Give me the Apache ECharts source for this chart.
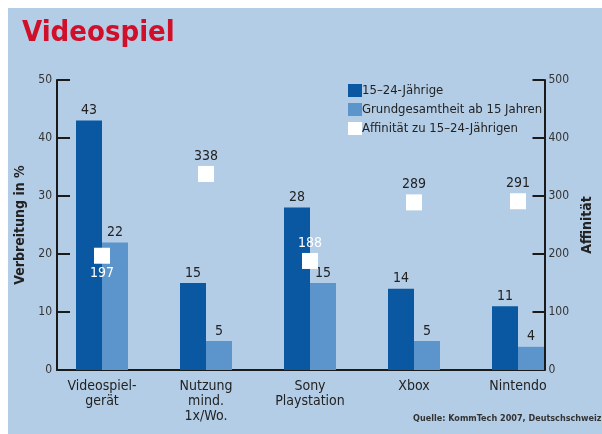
<!DOCTYPE html>
<html>
<head>
<meta charset="utf-8">
<script src="https://cdn.jsdelivr.net/npm/echarts@6/dist/echarts.min.js"></script>
<style>
  html, body { margin: 0; padding: 0; background: #fff; }
  #chart { width: 602px; height: 434px; }
</style>
</head>
<body>
<div id="chart"></div>
<script>
// Videospiel – Verbreitung und Affinität
var chart = echarts.init(document.getElementById('chart'));

var categories = ['Videospiel-\ngerät', 'Nutzung\nmind.\n1x/Wo.', 'Sony\nPlaystation', 'Xbox', 'Nintendo'];
var jung = [43, 15, 28, 14, 11];          // 15-24-Jährige, %
var gesamt = [22, 5, 15, 5, 4];           // Grundgesamtheit ab 15 Jahren, %
var affinitaet = [197, 338, 188, 289, 291];
var leftTicks = [0, 50, 10];              // min, max, interval
var rightTicks = [0, 500, 100];

// Beschriftung der Affinität: unter/über dem Punkt, weiß wenn im Balken
var affLabelPos = ['bottom', 'top', 'top', 'top', 'top'];
var affLabelColor = ['#fff', '#222', '#fff', '#222', '#222'];

var font = "'DejaVu Sans Condensed', 'Liberation Sans Narrow', sans-serif";
var dark = '#0a58a2';
var light = '#5c95cb';
var axisCol = '#1a1a1a';

var option = {
    animation: false,
    textStyle: { fontFamily: font },
    graphic: [
        {
            type: 'rect', silent: true, z: -10,
            shape: { x: 8, y: 8, width: 602, height: 434 },
            style: { fill: '#b4cde6' }
        },
        {
            type: 'text', left: 413, top: 414,
            style: { text: 'Quelle: KommTech 2007, Deutschschweiz', font: 'bold 9px ' + font, fill: '#333' }
        }
    ],
    title: {
        text: 'Videospiel',
        left: 17, top: 14,
        textStyle: { color: '#d0102a', fontSize: 29, fontWeight: 'bold', fontFamily: font }
    },
    legend: {
        orient: 'vertical',
        left: 343, top: 79,
        itemWidth: 14, itemHeight: 13, itemGap: 6,
        icon: 'rect',
        textStyle: { color: '#222', fontSize: 13, padding: [0, 0, 0, -5] },
        data: ['15–24-Jährige', 'Grundgesamtheit ab 15 Jahren', 'Affinität zu 15–24-Jährigen']
    },
    grid: [
        { left: 50, right: 32, top: 80, bottom: 64 },
        { left: 57, right: 43, top: 80, bottom: 64 }
    ],
    xAxis: [
        {
            type: 'category', gridIndex: 0, data: categories,
            axisLine: { show: false }, axisTick: { show: false },
            axisLabel: { color: '#222', fontSize: 14, lineHeight: 15, margin: 9 }
        },
        {
            type: 'category', gridIndex: 1, data: categories,
            axisLine: { lineStyle: { color: axisCol, width: 2 } },
            axisTick: { show: false }, axisLabel: { show: false }
        }
    ],
    yAxis: [
        { type: 'value', gridIndex: 0, min: leftTicks[0], max: leftTicks[1], interval: leftTicks[2], show: false },
        { type: 'value', gridIndex: 0, min: rightTicks[0], max: rightTicks[1], interval: rightTicks[2], show: false },
        {
            type: 'value', gridIndex: 1, position: 'left',
            min: leftTicks[0], max: leftTicks[1], interval: leftTicks[2],
            name: 'Verbreitung in %', nameLocation: 'middle', nameGap: 24, nameRotate: 90,
            nameTextStyle: { color: '#222', fontSize: 14, fontWeight: 'bold' },
            axisLine: { show: true, lineStyle: { color: axisCol, width: 2 } },
            axisTick: { show: true, inside: true, length: 13, lineStyle: { color: axisCol, width: 2 } },
            axisLabel: { color: '#333', fontSize: 12, margin: 5 },
            splitLine: { show: false }
        },
        {
            type: 'value', gridIndex: 1, position: 'right',
            min: rightTicks[0], max: rightTicks[1], interval: rightTicks[2],
            name: 'Affinität', nameLocation: 'middle', nameGap: 28, nameRotate: 90,
            nameTextStyle: { color: '#222', fontSize: 14, fontWeight: 'bold' },
            axisLine: { show: true, lineStyle: { color: axisCol, width: 2 } },
            axisTick: { show: true, inside: true, length: 12, lineStyle: { color: axisCol, width: 2 } },
            axisLabel: { color: '#333', fontSize: 12, margin: 4 },
            splitLine: { show: false }
        }
    ],
    series: [
        {
            name: '15–24-Jährige', type: 'bar', xAxisIndex: 0, yAxisIndex: 0,
            data: jung, barWidth: 26, barGap: '0%',
            itemStyle: { color: dark },
            label: { show: true, position: 'top', distance: 3, color: '#222', fontSize: 14 }
        },
        {
            name: 'Grundgesamtheit ab 15 Jahren', type: 'bar', xAxisIndex: 0, yAxisIndex: 0,
            data: gesamt, barWidth: 26,
            itemStyle: { color: light },
            label: { show: true, position: 'top', distance: 3, color: '#222', fontSize: 14 }
        },
        {
            name: 'Affinität zu 15–24-Jährigen', type: 'scatter', xAxisIndex: 0, yAxisIndex: 1,
            symbol: 'rect', symbolSize: 16, z: 5,
            itemStyle: { color: '#fff', opacity: 1 },
            data: affinitaet.map(function (v, i) {
                return {
                    value: v,
                    label: {
                        show: true, position: affLabelPos[i], distance: 3,
                        color: affLabelColor[i], fontSize: 14
                    }
                };
            })
        }
    ]
};

chart.setOption(option);
</script>
</body>
</html>
